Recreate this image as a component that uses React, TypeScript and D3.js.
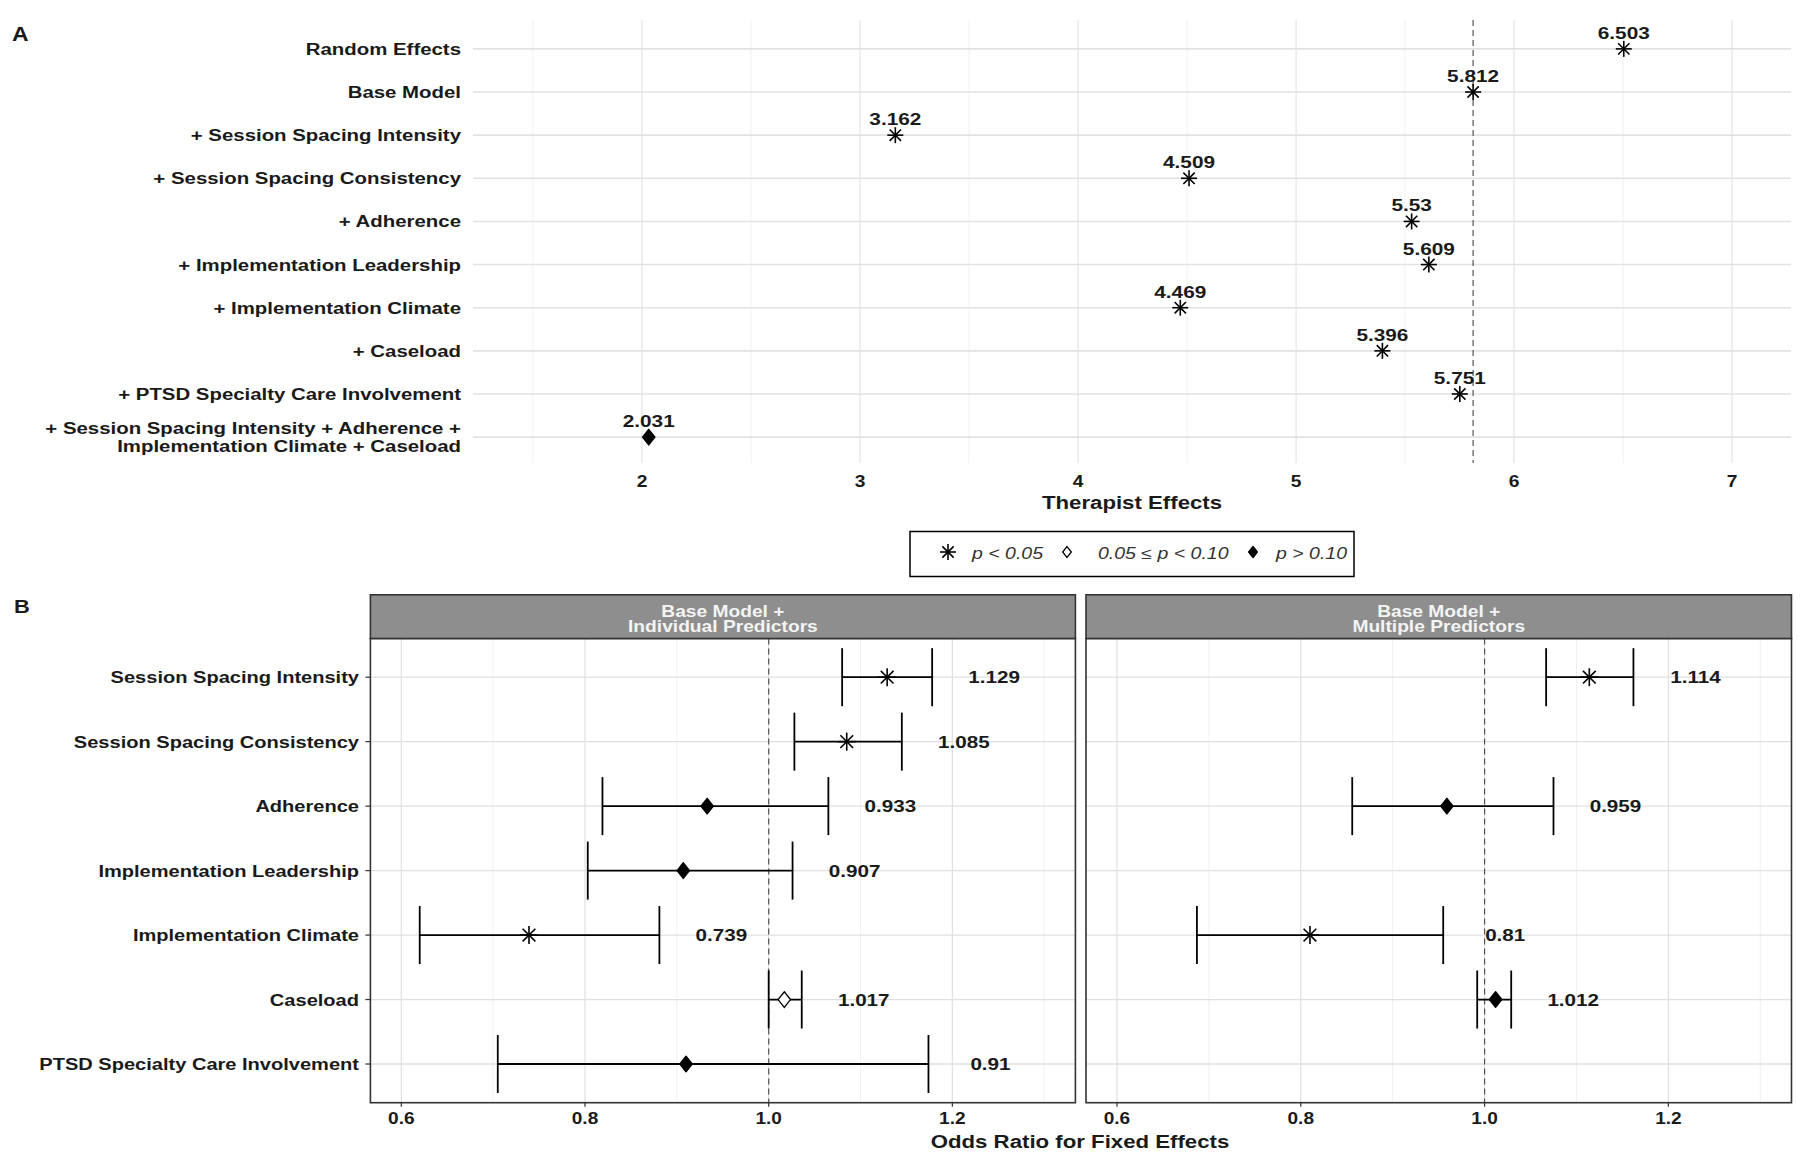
import React from "react";
import * as d3 from "d3";

// ---------- Data ----------
const modelLabels = [
  "Random Effects",
  "Base Model",
  "+ Session Spacing Intensity",
  "+ Session Spacing Consistency",
  "+ Adherence",
  "+ Implementation Leadership",
  "+ Implementation Climate",
  "+ Caseload",
  "+ PTSD Specialty Care Involvement",
  "+ Session Spacing Intensity + Adherence +\nImplementation Climate + Caseload",
];
const therapistEffects = [6.503, 5.812, 3.162, 4.509, 5.53, 5.609, 4.469, 5.396, 5.751, 2.031];
const therapistSig = ["sig", "sig", "sig", "sig", "sig", "sig", "sig", "sig", "sig", "ns"];
const baseModelValue = 5.812;
const therapistTicks = [2, 3, 4, 5, 6, 7];

const predictors = [
  "Session Spacing Intensity",
  "Session Spacing Consistency",
  "Adherence",
  "Implementation Leadership",
  "Implementation Climate",
  "Caseload",
  "PTSD Specialty Care Involvement",
];
const stripTitles = ["Base Model +\nIndividual Predictors", "Base Model +\nMultiple Predictors"];

const indivOR = [1.129, 1.085, 0.933, 0.907, 0.739, 1.017, 0.91];
const indivLo = [1.08, 1.028, 0.819, 0.803, 0.62, 1.0, 0.705];
const indivHi = [1.178, 1.145, 1.065, 1.026, 0.881, 1.036, 1.174];
const indivSig = ["sig", "sig", "ns", "ns", "sig", "marg", "ns"];

const multiOR = [1.114, null, 0.959, null, 0.81, 1.012, null];
const multiLo = [1.067, null, 0.856, null, 0.687, 0.992, null];
const multiHi = [1.162, null, 1.075, null, 0.955, 1.029, null];
const multiSig = ["sig", null, "ns", null, "sig", "ns", null];

const orTicks = [0.6, 0.8, 1.0, 1.2];
const orMinor = [0.7, 0.9, 1.1, 1.3];

const legendItems = [
  { key: "sig", label: "p < 0.05" },
  { key: "marg", label: "0.05 ≤ p < 0.10" },
  { key: "ns", label: "p > 0.10" },
];

// ---------- Helpers ----------
const FONT = "'Liberation Sans', Arial, Helvetica, sans-serif";

function ST({ x, y, sx = 1.2, size = 16, anchor = "start", weight = "bold", italic = false, fill = "#1a1a1a", children }: any) {
  return (
    <text
      transform={`translate(${x},${y}) scale(${sx},1)`}
      fontSize={size}
      textAnchor={anchor}
      fontWeight={weight}
      fontStyle={italic ? "italic" : "normal"}
      fill={fill}
      fontFamily={FONT}
    >
      {children}
    </text>
  );
}

function Marker({ kind, x, y, r = 8 }: any) {
  if (kind === "sig") {
    const d = r * Math.SQRT1_2;
    return (
      <g stroke="#000" strokeWidth={1.6}>
        <line x1={x - r} y1={y} x2={x + r} y2={y} />
        <line x1={x} y1={y - r} x2={x} y2={y + r} />
        <line x1={x - d} y1={y - d} x2={x + d} y2={y + d} />
        <line x1={x - d} y1={y + d} x2={x + d} y2={y - d} />
      </g>
    );
  }
  const w = r * 0.62;
  const h = r * 0.78;
  const p = `M${x},${y - h}L${x + w},${y}L${x},${y + h}L${x - w},${y}Z`;
  if (kind === "ns") return <path d={p} fill="#000" stroke="#000" strokeWidth={1.4} strokeLinejoin="round" />;
  return <path d={p} fill="#fff" stroke="#000" strokeWidth={1.3} />;
}

// ---------- Panel A ----------
function PanelA() {
  const x = d3.scaleLinear().domain([1.225, 7.27]).range([473, 1791]);
  const y = d3.scalePoint<string>().domain(modelLabels).range([23, 463]).padding(0.6);
  const minor = d3.range(1.5, 7.3, 1);
  return (
    <g>
      <ST x={12} y={41} size={20} sx={1.15}>A</ST>
      {minor.map((v) => (
        <line key={"mn" + v} x1={x(v)} x2={x(v)} y1={20} y2={463} stroke="#f0f0f0" strokeWidth={1} />
      ))}
      {therapistTicks.map((v) => (
        <line key={"mj" + v} x1={x(v)} x2={x(v)} y1={20} y2={463} stroke="#e4e4e4" strokeWidth={1.2} />
      ))}
      {modelLabels.map((m) => (
        <line key={"h" + m} x1={473} x2={1791} y1={y(m)} y2={y(m)} stroke="#e2e2e2" strokeWidth={1.6} />
      ))}
      <line x1={x(baseModelValue)} x2={x(baseModelValue)} y1={20} y2={463} stroke="#555" strokeWidth={1.2} strokeDasharray="6,4" />
      {modelLabels.map((m) => {
        const lines = m.split("\n");
        const yc = y(m)!;
        return lines.map((ln, i) => (
          <ST key={m + i} x={461} y={yc + 6 + (i - (lines.length - 1) / 2) * 17.5} anchor="end" size={17} sx={1.2}>
            {ln}
          </ST>
        ));
      })}
      {modelLabels.map((m, i) => (
        <g key={"pt" + m}>
          <Marker kind={therapistSig[i]} x={x(therapistEffects[i])} y={y(m)} r={therapistSig[i] === "sig" ? 8 : 10} />
          <ST x={x(therapistEffects[i])} y={y(m)! - 10} anchor="middle" size={16} sx={1.3}>
            {String(therapistEffects[i])}
          </ST>
        </g>
      ))}
      {therapistTicks.map((v) => (
        <ST key={"tl" + v} x={x(v)} y={487} anchor="middle" size={16} sx={1.2}>
          {String(v)}
        </ST>
      ))}
      <ST x={1132} y={509} anchor="middle" size={19} sx={1.17}>Therapist Effects</ST>
    </g>
  );
}

// ---------- Legend ----------
function Legend() {
  const mx = [948, 1067, 1253];
  const tx = [972, 1098, 1276];
  return (
    <g>
      <rect x={910} y={531.5} width={444} height={45} fill="#fff" stroke="#000" strokeWidth={1.5} />
      {legendItems.map((it, i) => (
        <g key={it.key}>
          <Marker kind={it.key} x={mx[i]} y={552} r={it.key === "sig" ? 8 : 7} />
          <ST x={tx[i]} y={559} size={16} sx={1.22} weight="normal" italic fill="#333">
            {it.label}
          </ST>
        </g>
      ))}
    </g>
  );
}

// ---------- Panel B ----------
function Facet({ x0, x1, title, est, lo, hi, sig, showY }: any) {
  const top = 638.5;
  const bottom = 1102.7;
  const x = d3.scaleLinear().domain([0.5663, 1.334]).range([x0, x1]);
  const y = d3.scalePoint<string>().domain(predictors).range([top, bottom]).padding(0.6);
  const step = y.step();
  const tl = title.split("\n");
  return (
    <g>
      <rect x={x0} y={top} width={x1 - x0} height={bottom - top} fill="#fff" />
      {orMinor.map((v) => (
        <line key={"mn" + v} x1={x(v)} x2={x(v)} y1={top} y2={bottom} stroke="#f0f0f0" strokeWidth={1} />
      ))}
      {orTicks.map((v) => (
        <line key={"mj" + v} x1={x(v)} x2={x(v)} y1={top} y2={bottom} stroke="#e0e0e0" strokeWidth={1.2} />
      ))}
      {predictors.map((p) => (
        <line key={"h" + p} x1={x0} x2={x1} y1={y(p)} y2={y(p)} stroke="#e0e0e0" strokeWidth={1.3} />
      ))}
      <line x1={x(1)} x2={x(1)} y1={top} y2={bottom} stroke="#555" strokeWidth={1.2} strokeDasharray="6,4" />
      {predictors.map((p, i) => {
        if (est[i] == null) return null;
        const yc = y(p)!;
        const h = step * 0.45;
        return (
          <g key={"eb" + p}>
            <g stroke="#000" strokeWidth={1.8}>
              <line x1={x(lo[i])} x2={x(hi[i])} y1={yc} y2={yc} />
              <line x1={x(lo[i])} x2={x(lo[i])} y1={yc - h} y2={yc + h} />
              <line x1={x(hi[i])} x2={x(hi[i])} y1={yc - h} y2={yc + h} />
            </g>
            <Marker kind={sig[i]} x={x(est[i])} y={yc} r={sig[i] === "sig" ? 9 : 10} />
            <ST x={x(hi[i]) + 62} y={yc + 6} anchor="middle" size={16} sx={1.29}>
              {String(est[i])}
            </ST>
          </g>
        );
      })}
      <rect x={x0} y={top} width={x1 - x0} height={bottom - top} fill="none" stroke="#333" strokeWidth={1.6} />
      <rect x={x0} y={594.8} width={x1 - x0} height={top - 594.8} fill="#8e8e8e" stroke="#333" strokeWidth={1.6} />
      {tl.map((t: string, i: number) => (
        <ST key={"st" + i} x={(x0 + x1) / 2} y={617 + i * 15} anchor="middle" size={16} sx={1.2} fill="#f4f4f4">
          {t}
        </ST>
      ))}
      {orTicks.map((v) => (
        <g key={"xt" + v}>
          <line x1={x(v)} x2={x(v)} y1={bottom} y2={bottom + 4} stroke="#333" strokeWidth={1.2} />
          <ST x={x(v)} y={1124} anchor="middle" size={16} sx={1.19}>
            {d3.format(".1f")(v)}
          </ST>
        </g>
      ))}
      {showY &&
        predictors.map((p) => (
          <g key={"yl" + p}>
            <line x1={x0 - 5} x2={x0} y1={y(p)} y2={y(p)} stroke="#333" strokeWidth={1.2} />
            <ST x={359} y={y(p)! + 6} anchor="end" size={17} sx={1.18}>
              {p}
            </ST>
          </g>
        ))}
    </g>
  );
}

function PanelB() {
  return (
    <g>
      <ST x={14} y={613} size={19} sx={1.15}>B</ST>
      <Facet x0={370.4} x1={1075.4} title={stripTitles[0]} est={indivOR} lo={indivLo} hi={indivHi} sig={indivSig} showY />
      <Facet x0={1086} x1={1791.5} title={stripTitles[1]} est={multiOR} lo={multiLo} hi={multiHi} sig={multiSig} showY={false} />
      <ST x={1080} y={1148} anchor="middle" size={19} sx={1.17}>Odds Ratio for Fixed Effects</ST>
    </g>
  );
}

export default function App() {
  return (
    <svg
      width={1800}
      height={1163}
      viewBox="0 0 1800 1163"
      style={{ position: "absolute", left: 0, top: 0, background: "#fff" }}
    >
      <rect width={1800} height={1163} fill="#fff" />
      <PanelA />
      <Legend />
      <PanelB />
    </svg>
  );
}
